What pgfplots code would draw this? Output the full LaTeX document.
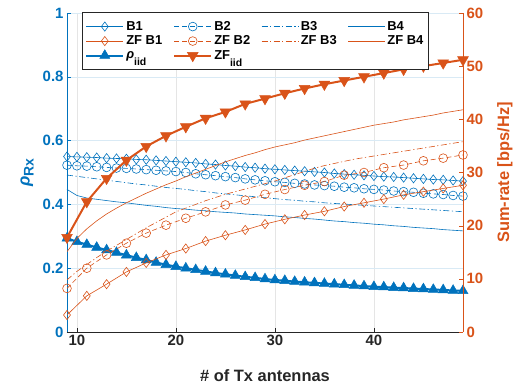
\documentclass[border=0pt]{standalone}
\usepackage{fontspec}
\setmainfont{Liberation Sans}
\usepackage{pgfplots}
\pgfplotsset{compat=1.18}
\usepackage{pgfplotstable}
\definecolor{mblue}{RGB}{0,114,189}
\definecolor{morange}{RGB}{217,83,25}
\definecolor{mgray}{RGB}{38,38,38}

\pgfplotstableread{
x B1 B2 B3 B4 rho ZFB3 ZFB4
9 .550 .523 .492 .447 .294 9.8 15.1
10 .549 .521 .488 .428 .283 11.4 17.6
11 .548 .520 .484 .420 .274 12.7 19.4
12 .547 .518 .480 .416 .265 14.0 20.9
13 .545 .516 .476 .412 .257 15.2 22.2
14 .544 .514 .472 .408 .249 16.3 23.3
15 .543 .513 .468 .405 .241 17.4 24.3
16 .541 .511 .464 .401 .233 18.5 25.2
17 .540 .509 .461 .397 .226 19.6 26.1
18 .538 .507 .457 .394 .218 20.6 26.9
19 .536 .505 .453 .390 .211 21.6 27.7
20 .534 .503 .450 .387 .205 22.6 28.4
21 .532 .500 .447 .385 .200 23.3 29.2
22 .530 .496 .443 .382 .195 24.0 29.9
23 .527 .493 .440 .380 .190 24.7 30.6
24 .525 .490 .436 .377 .185 25.3 31.3
25 .522 .487 .433 .375 .181 25.9 32.0
26 .520 .484 .430 .373 .177 26.4 32.6
27 .517 .480 .427 .370 .173 26.9 33.2
28 .515 .477 .424 .368 .170 27.4 33.7
29 .512 .474 .421 .366 .166 27.9 34.3
30 .510 .471 .418 .364 .163 28.4 34.8
31 .508 .469 .415 .361 .161 29.0 35.2
32 .506 .466 .413 .359 .158 29.6 35.6
33 .504 .464 .410 .356 .156 30.2 36.1
34 .502 .461 .408 .354 .154 30.8 36.5
35 .500 .459 .405 .351 .152 31.3 36.9
36 .497 .457 .403 .348 .150 31.7 37.3
37 .495 .454 .401 .346 .148 32.1 37.7
38 .493 .452 .399 .343 .146 32.5 38.1
39 .491 .449 .397 .341 .144 32.8 38.5
40 .489 .447 .395 .338 .142 33.1 38.9
41 .487 .445 .393 .336 .141 33.4 39.2
42 .486 .442 .391 .333 .139 33.7 39.5
43 .484 .440 .389 .331 .138 34.0 39.9
44 .482 .438 .387 .328 .136 34.3 40.2
45 .480 .435 .385 .326 .135 34.6 40.5
46 .478 .433 .383 .324 .133 34.9 40.8
47 .477 .431 .381 .321 .132 35.2 41.2
48 .475 .428 .379 .319 .130 35.5 41.5
49 .473 .426 .377 .317 .129 35.8 41.8
}\lefttab

\pgfplotstableread{
x ZFB1 ZFB2 ZFiid
9 3.2 8.2 17.8
11 6.8 12.0 24.5
13 9.0 14.5 28.9
15 11.3 16.7 32.3
17 13.0 18.6 34.9
19 14.5 20.1 36.9
21 15.7 21.4 38.6
23 17.1 22.6 40.2
25 18.2 23.9 41.4
27 19.2 24.8 42.9
29 20.3 25.9 43.9
31 21.2 26.8 44.9
33 22.0 27.6 45.8
35 22.7 28.3 46.6
37 23.6 29.5 47.3
39 24.3 30.0 48.0
41 25.0 30.9 48.7
43 25.8 31.4 49.4
45 26.4 32.2 50.0
47 27.0 32.7 50.6
49 27.6 33.3 51.2
}\righttab

\newcommand{\lsub}[1]{\raisebox{-7.5bp}{\fontsize{10.5}{10.5}\selectfont #1}}

\pgfplotsset{
  sB1/.style={mblue, line width=0.6bp, mark=diamond, mark size=4.6bp, mark options={solid, line width=0.6bp}},
  sB2/.style={mblue, line width=0.6bp, dash pattern=on 5bp off 3bp, mark=o, mark size=4.4bp, mark options={solid, line width=0.6bp}},
  sB3/.style={mblue, line width=0.6bp, dash pattern=on 6bp off 2.5bp on 1.2bp off 2.5bp},
  sB4/.style={mblue, line width=0.6bp},
  sZ1/.style={morange, line width=0.6bp, mark=diamond, mark size=4.6bp, mark options={solid, line width=0.6bp}},
  sZ2/.style={morange, line width=0.6bp, dash pattern=on 5bp off 3bp, mark=o, mark size=4.4bp, mark options={solid, line width=0.6bp}},
  sZ3/.style={morange, line width=0.6bp, dash pattern=on 6bp off 2.5bp on 1.2bp off 2.5bp},
  sZ4/.style={morange, line width=0.6bp},
  sRho/.style={mblue, line width=2bp, mark=triangle*, mark size=5.8bp, mark options={solid, fill=mblue, line width=0.5bp}},
  sZiid/.style={morange, line width=2bp, mark=triangle*, mark size=6.2bp, mark options={solid, fill=morange, line width=0.5bp, rotate=180}},
  common/.style={
    scale only axis, width=396bp, height=319bp,
    at={(0,0)}, anchor=south west,
    xmin=9, xmax=49,
    tick align=inside,
    major tick length=4bp,
    /pgf/number format/assume math mode=true,
    tick label style={font=\fontsize{15}{15}\selectfont\bfseries},
  },
}

\begin{document}
\begin{tikzpicture}
\useasboundingbox (-67bp,-57bp) rectangle (462bp,332bp);
\begin{axis}[common,
  ymin=0, ymax=1,
  ytick={0,0.2,0.4,0.6,0.8,1},
  xtick={10,20,30,40},
  axis y line*=left, axis x line*=bottom,
  x axis line style={-, draw=mgray},
  y axis line style={-, draw=mblue},
  xtick style={draw=mgray}, ytick style={draw=mblue},
  xticklabel style={text=mgray},
  yticklabel style={text=mblue},
  xmajorgrids, ymajorgrids,
  major x grid style={gray!20, line width=0.5bp},
  major y grid style={mblue!15, line width=0.5bp},
  every axis x label/.style={at={(axis description cs:0.5,-0.137)}, anchor=center, font=\fontsize{16.5}{16.5}\selectfont\bfseries, text=mgray},
  every axis y label/.style={at={(axis description cs:-0.101,0.5)}, rotate=90, anchor=center, font=\fontsize{17}{17}\selectfont\bfseries, text=mblue},
  xlabel={\# of Tx antennas},
  ylabel={{\itshape ρ}\raisebox{-4bp}{\fontsize{14}{14}\selectfont Rx}},
]
\addplot[sB4] table[x=x, y=B4] {\lefttab};
\addplot[sB3] table[x=x, y=B3] {\lefttab};
\addplot[sB2] table[x=x, y=B2] {\lefttab};
\addplot[sB1] table[x=x, y=B1] {\lefttab};
\addplot[sRho] table[x=x, y=rho] {\lefttab};
\end{axis}
\begin{axis}[common,
  ymin=0, ymax=60,
  ytick={0,10,20,30,40,50,60},
  axis y line*=right, axis x line=none,
  y axis line style={-, draw=morange},
  ytick style={draw=morange},
  yticklabel style={text=morange},
  every axis y label/.style={at={(axis description cs:1.106,0.5)}, rotate=90, anchor=center, font=\fontsize{16.5}{16.5}\selectfont\bfseries, text=morange},
  ylabel={Sum-rate [bps/Hz]},
  legend columns=4,
  legend cell align=left,
  legend image code/.code={\draw[mark repeat=2,mark phase=2,#1] plot coordinates {(0bp,0bp) (18.5bp,0bp) (37bp,0bp)};},
  legend style={at={(axis description cs:0.038,1.003)}, anchor=north west,
    draw=mgray, line width=0.5bp, fill=white,
    font=\fontsize{13}{15}\selectfont\bfseries,
    /tikz/every even column/.append style={column sep=9bp},
    row sep=0bp,
    inner xsep=3bp, inner ysep=7bp},
]
\addlegendimage{sB1}\addlegendentry{B1}
\addlegendimage{sB2}\addlegendentry{B2}
\addlegendimage{sB3}\addlegendentry{B3}
\addlegendimage{sB4}\addlegendentry{B4}
\addplot[sZ1] table[x=x, y=ZFB1] {\righttab};\addlegendentry{ZF B1}
\addplot[sZ2] table[x=x, y=ZFB2] {\righttab};\addlegendentry{ZF B2}
\addplot[sZ3] table[x=x, y=ZFB3] {\lefttab};\addlegendentry{ZF B3}
\addplot[sZ4] table[x=x, y=ZFB4] {\lefttab};\addlegendentry{ZF B4}
\addlegendimage{sRho}\addlegendentry{{\itshape ρ}\lsub{iid}}
\addplot[sZiid] table[x=x, y=ZFiid] {\righttab};\addlegendentry{ZF\lsub{iid}}
\end{axis}
\end{tikzpicture}
\end{document}
